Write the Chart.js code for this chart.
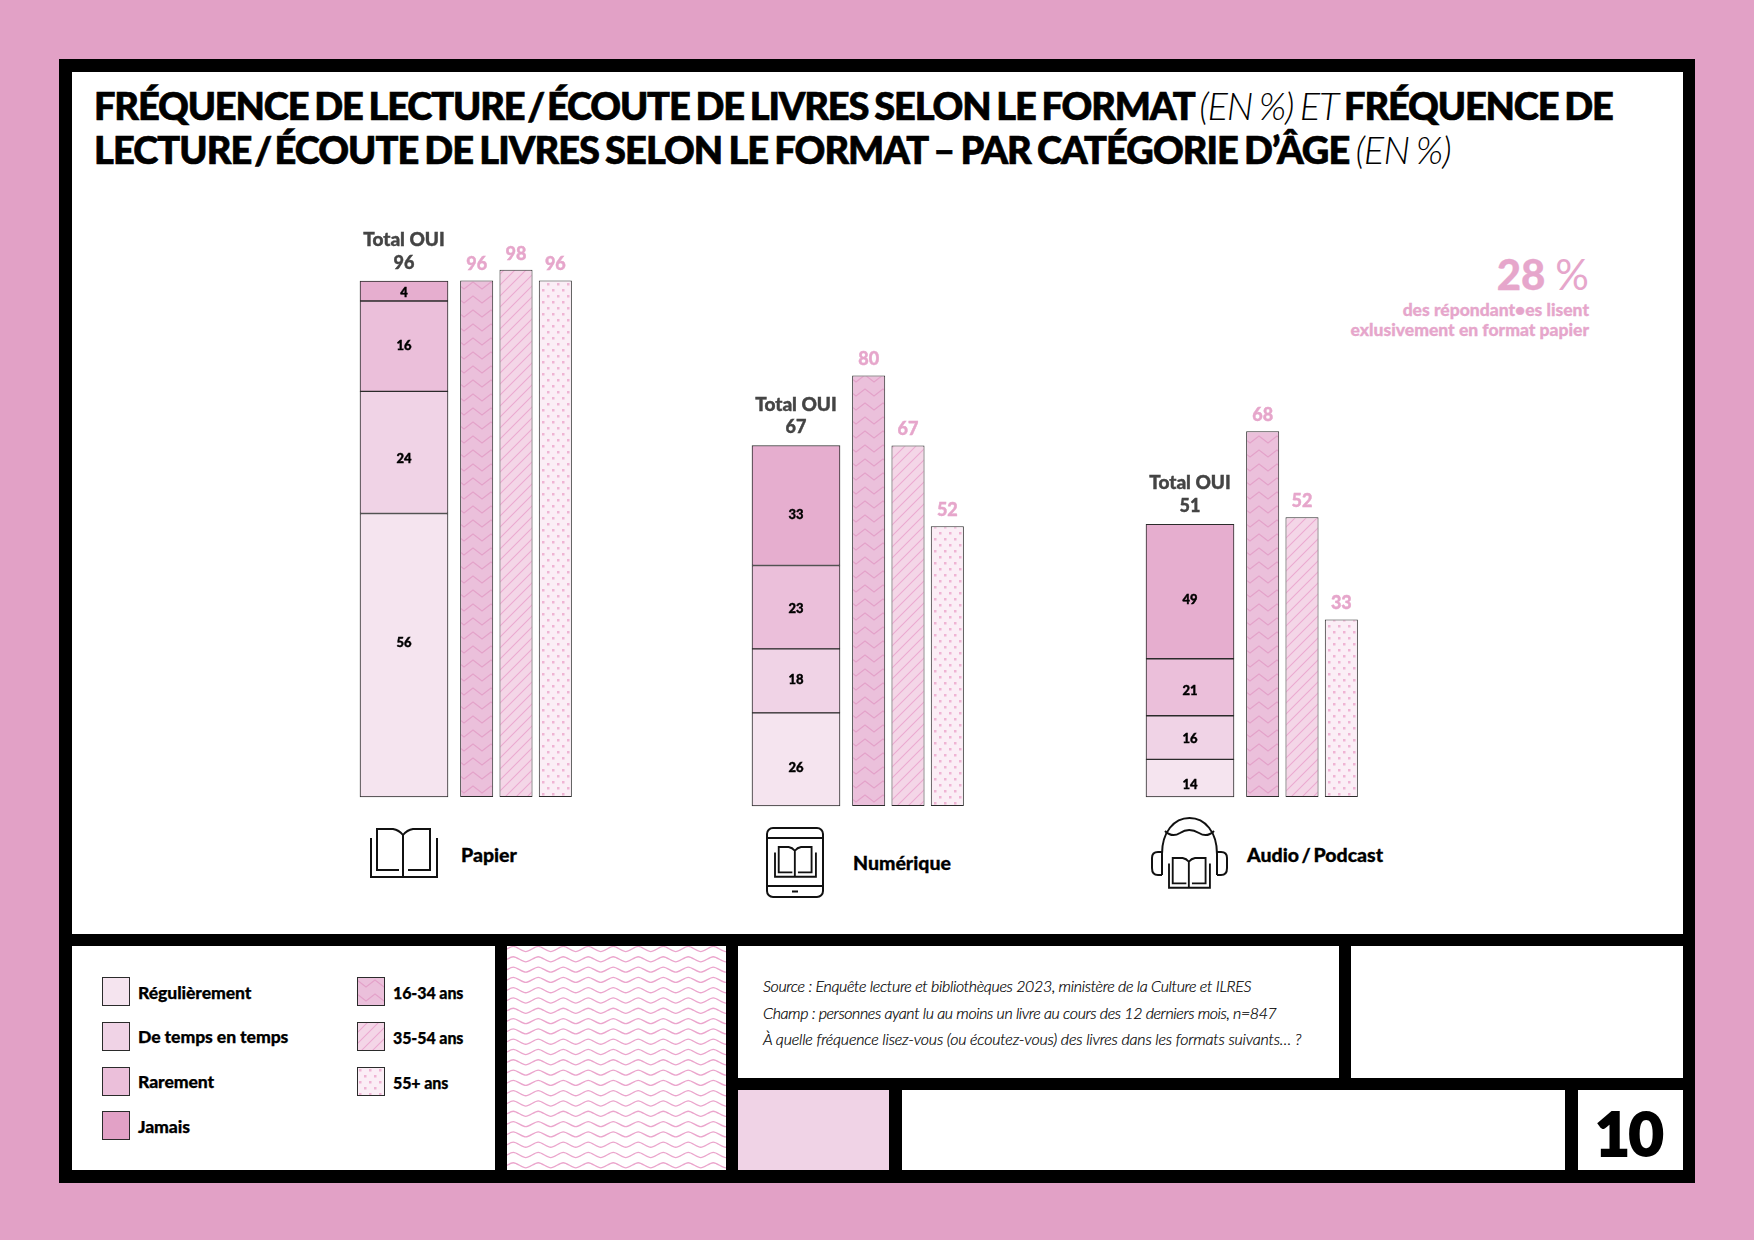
<!DOCTYPE html>
<html lang="fr">
<head>
<meta charset="utf-8">
<title>Fréquence de lecture</title>
<script src="https://cdn.jsdelivr.net/npm/chart.js@4/dist/chart.umd.min.js"></script>
<style>
  html, body { margin: 0; padding: 0; }
  body { position: relative; width: 1754px; height: 1240px; background: #e2a1c6; overflow: hidden; font-family: Lato, sans-serif; }
  .box { position: absolute; background: #fff; }
  .t { position: absolute; white-space: nowrap; color: #000; }
  canvas, svg { position: absolute; }
  #title { left: 94px; top: 84px; font-size: 38px; line-height: 43.5px; font-weight: 900; word-spacing: -2px; -webkit-text-stroke: .7px #000; }
  #title i { font-weight: 300; -webkit-text-stroke: 0; }
  #title span { word-spacing: -5px; }
  .cat { font-size: 19.5px; font-weight: 900; line-height: 24px; -webkit-text-stroke: .3px #000; word-spacing: -2px; }
  .leg { font-size: 17.6px; font-weight: 900; line-height: 20px; -webkit-text-stroke: .25px #000; letter-spacing: -0.1px; }
  .leg.age { font-size: 16px; }
  .src { left: 763px; font-size: 16px; font-weight: 300; font-style: italic; line-height: 20px; -webkit-text-stroke: .2px #000; }
  .note { right: 165px; color: #e6a6cb; font-weight: 900; -webkit-text-stroke: .3px #e6a6cb; }
  svg * { fill: none; stroke: #111; stroke-width: 2; }
</style>
</head>
<body>
<div style="position:absolute;left:59px;top:59px;width:1636px;height:1124px;background:#000"></div>
<div class="box" style="left:72px;top:72px;width:1611px;height:862px"></div>
<div class="box" style="left:72px;top:946px;width:423px;height:224px"></div>
<div class="box" style="left:738px;top:946px;width:601px;height:132px"></div>
<div class="box" style="left:1351px;top:946px;width:332px;height:132px"></div>
<div class="box" style="left:738px;top:1090px;width:151px;height:80px;background:#f0d3e6"></div>
<div class="box" style="left:902px;top:1090px;width:663px;height:80px"></div>
<div class="box" style="left:1578px;top:1090px;width:105px;height:80px"></div>
<canvas id="wavePanel" width="219" height="224" style="left:507px;top:946px"></canvas>

<div class="t" id="title">
  <div style="letter-spacing:-1.15px">FRÉQUENCE DE LECTURE<span> / </span>ÉCOUTE DE LIVRES SELON LE FORMAT <i>(EN %) ET</i> FRÉQUENCE DE</div>
  <div style="letter-spacing:-.95px">LECTURE<span> / </span>ÉCOUTE DE LIVRES SELON LE FORMAT – PAR CATÉGORIE D’ÂGE <i>(EN %)</i></div>
</div>

<div class="t note" style="top:252px;font-size:42px;line-height:44px">28 <span style="font-weight:400;-webkit-text-stroke:0">%</span></div>
<div class="t note" style="top:300px;font-size:17.5px;line-height:20px">des répondant•es lisent</div>
<div class="t note" style="top:320px;font-size:17.5px;line-height:20px">exlusivement en format papier</div>

<svg width="66" height="49" viewBox="0 0 66 49" style="left:371px;top:829px;overflow:visible">
  <path d="M28 41H6V0H22Q28 1 32 6V48M32 6Q36 1 42 0H59V41H37"/>
  <path d="M0 9V48H66V9"/>
</svg>
<svg width="56" height="69" viewBox="0 0 56 69" style="left:767px;top:828px;overflow:visible">
  <rect x="0" y="0" width="56" height="69" rx="6"/>
  <path d="M0 10H56M0 58H56M25 63.5H31"/>
  <g transform="translate(8 19) scale(.62)"><path d="M28 41H6V0H22Q28 1 32 6V48M32 6Q36 1 42 0H59V41H37" style="stroke-width:3"/><path d="M0 9V48H66V9" style="stroke-width:3"/></g>
</svg>
<svg width="75" height="70" viewBox="0 0 75 70" style="left:1152px;top:818px;overflow:visible">
  <path d="M10 57V36C10 14 22 0 37.5 0S65 14 65 36V57"/>
  <path d="M13 13Q20 20 28 15Q37 9 47 15Q55 20 62 13"/>
  <path d="M10 34H6Q0 34 0 40V50Q0 57 6 57H10M65 34H69Q75 34 75 40V50Q75 57 69 57H65"/>
  <g transform="translate(17 40) scale(.62)"><path d="M28 41H6V0H22Q28 1 32 6V48M32 6Q36 1 42 0H59V41H37" style="stroke-width:3"/><path d="M0 9V48H66V9" style="stroke-width:3"/></g>
</svg>

<div class="t src" style="top:976px;letter-spacing:-.35px">Source : Enquête lecture et bibliothèques 2023, ministère de la Culture et ILRES</div>
<div class="t src" style="top:1003px;letter-spacing:-.4px">Champ : personnes ayant lu au moins un livre au cours des 12 derniers mois, n=847</div>
<div class="t src" style="top:1029px;letter-spacing:-.2px">À quelle fréquence lisez-vous (ou écoutez-vous) des livres dans les formats suivants… ?</div>
<div class="t" style="left:1595px;top:1098px;font-size:60px;line-height:70px;font-weight:900;letter-spacing:-1px;-webkit-text-stroke:2px #000">10</div>

<script>
// valeurs
const categories = ['Papier', 'Numérique', 'Audio / Podcast'];
const totalOui = [96, 67, 51];
const frequences = ['Régulièrement', 'De temps en temps', 'Rarement', 'Jamais'];
const regulierement = [56, 26, 14];
const deTemps = [24, 18, 16];
const rarement = [16, 23, 21];
const jamais = [4, 33, 49];
// hauteur dessinée de chaque segment, dans l'unité de l'axe
const hauteurRegulierement = [52.7, 17.3, 7.0];
const hauteurDeTemps = [22.7, 11.9, 8.1];
const hauteurRarement = [16.8, 15.5, 10.6];
const hauteurJamais = [3.7, 22.3, 25.0];
const ages = ['16-34 ans', '35-54 ans', '55+ ans'];
const age1634 = [96, 80, 68];
const age3554 = [98, 67, 52];
const age55 = [96, 52, 33];

// mise en page
const pxParUnite = 5.38;
const margeHaut = 50;
const groupes = [
    { baseline: 797, stackLeft: 360, ageLeft: 457, labelLeft: 461, labelY: 855, decalages: [-12, 6.5, 0, 1.5] },
    { baseline: 806, stackLeft: 752, ageLeft: 849, labelLeft: 853, labelY: 863, decalages: [8, -1, 2, 9] },
    { baseline: 797, stackLeft: 1146, ageLeft: 1243, labelLeft: 1247, labelY: 855, decalages: [7, 1, 3.5, 8] }
];
const couleursFreq = ['#f5e4ef', '#f0d3e6', '#ebbfda', '#e6aecf'];
const couleursLegende = ['#f5e4ef', '#f0d3e6', '#ebbfda', '#e2a1c6'];
const rose = '#e6a6cb';
const bord = '#2b2b2b';

function tile(w, h, bg, draw) {
    const c = document.createElement('canvas');
    c.width = w;
    c.height = h;
    const ctx = c.getContext('2d');
    ctx.fillStyle = bg;
    ctx.fillRect(0, 0, w, h);
    draw(ctx);
    return ctx.createPattern(c, 'repeat');
}

const motifZigzag = tile(18, 14, '#ebc0db', ctx => {
    ctx.strokeStyle = '#e3a2c9';
    ctx.lineWidth = 1.2;
    for (const y of [-14, 0, 14]) {
        ctx.beginPath();
        ctx.moveTo(-9, y + 10);
        ctx.lineTo(0, y + 3);
        ctx.lineTo(9, y + 10);
        ctx.lineTo(18, y + 3);
        ctx.lineTo(27, y + 10);
        ctx.stroke();
    }
});
const motifDiag = tile(11, 11, '#f4d6e7', ctx => {
    ctx.strokeStyle = '#ebaad0';
    ctx.lineWidth = 1.1;
    ctx.beginPath();
    ctx.moveTo(-2, 13);
    ctx.lineTo(13, -2);
    ctx.moveTo(-13, 13);
    ctx.lineTo(2, -2);
    ctx.moveTo(9, 13);
    ctx.lineTo(24, -2);
    ctx.stroke();
});
const motifPoints = tile(10, 12, '#fbeef6', ctx => {
    ctx.fillStyle = '#efb4d4';
    ctx.fillRect(2, 2, 2.5, 2.5);
    ctx.fillRect(7, 8, 2.5, 2.5);
});
const motifsAges = [motifZigzag, motifDiag, motifPoints];

function drawLabel(ctx, text, x, y, font, color) {
    ctx.save();
    ctx.font = font;
    ctx.fillStyle = color;
    ctx.strokeStyle = color;
    ctx.lineWidth = 0.4;
    ctx.textAlign = 'center';
    ctx.textBaseline = 'middle';
    ctx.fillText(text, x, y);
    ctx.strokeText(text, x, y);
    ctx.restore();
}

// étiquettes de la barre empilée
function stackLabelsPlugin(values, total, decalages) {
    return {
        id: 'stackLabels',
        afterDatasetsDraw(chart) {
            const ctx = chart.ctx;
            let top = null;
            chart.data.datasets.forEach((ds, i) => {
                const bar = chart.getDatasetMeta(i).data[0];
                drawLabel(ctx, String(values[i]), bar.x, (bar.y + bar.base) / 2 + decalages[i], '900 13px Lato', '#000');
                top = bar;
            });
            drawLabel(ctx, 'Total OUI', top.x, top.y - 41, '900 19px Lato', '#444');
            drawLabel(ctx, String(total), top.x, top.y - 18, '900 18px Lato', '#444');
        }
    };
}

// étiquettes des barres par âge
const ageLabelsPlugin = {
    id: 'ageLabels',
    afterDatasetsDraw(chart) {
        const ds = chart.data.datasets[0];
        chart.getDatasetMeta(0).data.forEach((bar, i) => {
            drawLabel(chart.ctx, String(ds.data[i]), bar.x, bar.y - 16, '900 18px Lato', rose);
        });
    }
};

function makeChart(left, baseline, width, labels, datasets, plugin) {
    const canvas = document.createElement('canvas');
    const plotH = 100 * pxParUnite;
    canvas.width = width + 4;
    canvas.height = plotH + margeHaut + 2;
    canvas.style.left = (left - 2) + 'px';
    canvas.style.top = (baseline - plotH - margeHaut) + 'px';
    document.body.appendChild(canvas);
    return new Chart(canvas.getContext('2d'), {
        type: 'bar',
        data: { labels: labels, datasets: datasets },
        plugins: [plugin],
        options: {
            responsive: false,
            animation: false,
            layout: { padding: { top: margeHaut, bottom: 2, left: 2, right: 2 } },
            plugins: { legend: { display: false }, tooltip: { enabled: false } },
            scales: {
                x: { display: false, stacked: true },
                y: { display: false, stacked: true, min: 0, max: 100 }
            }
        }
    });
}

const hauteurs = [hauteurRegulierement, hauteurDeTemps, hauteurRarement, hauteurJamais];
const valeurs = [regulierement, deTemps, rarement, jamais];

categories.forEach((cat, g) => {
    const pos = groupes[g];
    // barre empilée par fréquence
    const stackSets = frequences.map((f, i) => ({
        label: f,
        data: [hauteurs[i][g]],
        backgroundColor: couleursFreq[i],
        borderColor: bord,
        borderWidth: 1,
        borderSkipped: false,
        barPercentage: 1,
        categoryPercentage: 1,
        clip: false
    }));
    makeChart(pos.stackLeft, pos.baseline, 88, ['Total OUI'], stackSets,
        stackLabelsPlugin(valeurs.map(v => v[g]), totalOui[g], pos.decalages));

    // trois barres par âge
    makeChart(pos.ageLeft, pos.baseline, 118, ages, [{
        label: cat,
        data: [age1634[g], age3554[g], age55[g]],
        backgroundColor: motifsAges,
        borderColor: bord,
        borderWidth: 1,
        borderSkipped: false,
        barPercentage: 0.84,
        categoryPercentage: 1,
        clip: false
    }], ageLabelsPlugin);

    const lab = document.createElement('div');
    lab.className = 't cat';
    lab.textContent = cat;
    lab.style.left = pos.labelLeft + 'px';
    lab.style.top = (pos.labelY - 12) + 'px';
    document.body.appendChild(lab);
});

// légende
function legendItem(x, y, fill, text, textX, textY, extraClass) {
    const c = document.createElement('canvas');
    c.width = 28;
    c.height = 29;
    c.style.left = x + 'px';
    c.style.top = y + 'px';
    document.body.appendChild(c);
    const ctx = c.getContext('2d');
    ctx.fillStyle = fill;
    ctx.fillRect(0, 0, 28, 29);
    ctx.strokeStyle = bord;
    ctx.strokeRect(0.5, 0.5, 27, 28);
    const d = document.createElement('div');
    d.className = 't leg ' + extraClass;
    d.textContent = text;
    d.style.left = textX + 'px';
    d.style.top = (textY - 10) + 'px';
    document.body.appendChild(d);
}
const legendeY = [977, 1022, 1067, 1111];
frequences.forEach((f, i) => legendItem(102, legendeY[i], couleursLegende[i], f, 138, legendeY[i] + (i == 0 || i == 3 ? 16 : 15), ''));
ages.forEach((a, i) => legendItem(357, legendeY[i], motifsAges[i], a, 393, legendeY[i] + 16, 'age'));

// panneau de vagues
const wave = document.getElementById('wavePanel').getContext('2d');
wave.fillStyle = '#fff';
wave.fillRect(0, 0, 219, 224);
wave.strokeStyle = '#eba6cd';
wave.lineWidth = 1.3;
for (let y = 3; y < 230; y += 10.3) {
    wave.beginPath();
    wave.moveTo(-25, y);
    for (let x = -25; x < 240; x += 25) {
        wave.bezierCurveTo(x + 6, y - 3.4, x + 6.5, y - 3.4, x + 12.5, y);
        wave.bezierCurveTo(x + 18.5, y + 3.4, x + 19, y + 3.4, x + 25, y);
    }
    wave.stroke();
}
</script>
</body>
</html>
